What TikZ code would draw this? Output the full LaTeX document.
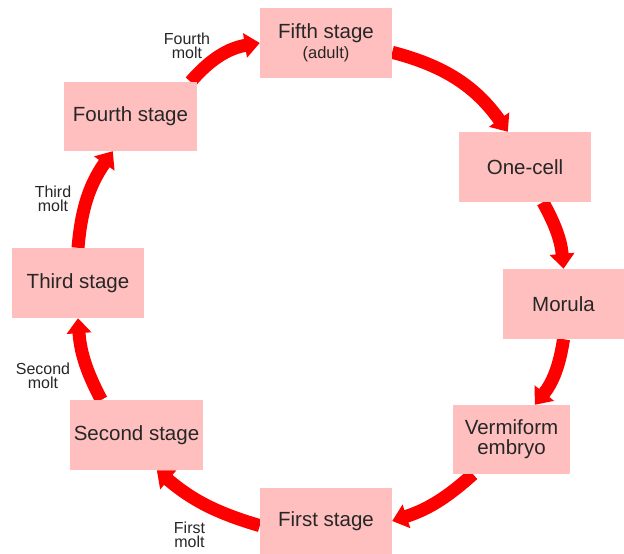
\documentclass[tikz,border=0pt]{standalone}
\usepackage{fontspec}
\setmainfont{Liberation Sans}
\usetikzlibrary{arrows.meta,backgrounds}

\definecolor{stagepink}{HTML}{FFBFBF}
\definecolor{moltred}{HTML}{FF0000}
\definecolor{inkgray}{HTML}{262626}

\begin{document}
\begin{tikzpicture}[x=1pt,y=1pt,
    stage/.style={fill=stagepink, text=inkgray, align=center, inner sep=0pt,
      minimum width=132pt, minimum height=70pt,
      font=\fontsize{20.5}{20}\selectfont},
    molt/.style={text=inkgray, align=center, font=\fontsize{16}{14.5}\selectfont},
    arr/.style={moltred, line width=13pt, -{Triangle[length=15pt,width=24pt]}}]
  \useasboundingbox (0,0) rectangle (624,554);

  % the stages, clockwise from the adult
  \node[stage] (fifth) at (326,511) {Fifth stage\\{\fontsize{16.5}{16}\selectfont(adult)}};
  \node[stage] (onecell) at (525,387) {One-cell};
  \node[stage, minimum width=121pt] (morula) at (563.5,250) {Morula};
  \node[stage, minimum width=117pt, minimum height=69pt] (vermiform) at (511.5,114.5) {Vermiform\\embryo};
  \node[stage, minimum height=66pt] (first) at (326,33) {First stage};
  \node[stage, minimum width=133pt] (second) at (136.5,119) {Second stage};
  \node[stage] (third) at (78,271) {Third stage};
  \node[stage, minimum width=133pt, minimum height=69pt] (fourth) at (130.5,437.5) {Fourth stage};

  % molt labels
  \node[molt] (firstmolt) at (189.5,19) {First\\molt};
  \node[molt] (secondmolt) at (43,178) {Second\\molt};
  \node[molt] (thirdmolt) at (53,355) {Third\\molt};
  \node[molt] (fourthmolt) at (187,508) {Fourth\\molt};

  % the cycle, kept behind the boxes
  \begin{pgfonlayer}{background}
    \draw[arr] (fourth.30) to[bend left=20] (fifth.west);
    \draw[arr] (fifth.-8) to[bend left=20] (onecell.116);
    \draw[arr] (onecell.-63) to[bend left=12] (morula.north);
    \draw[arr] (morula.south) to[bend left=15] (vermiform.56);
    \draw[arr] (vermiform.-138) to[bend left=12] (first.east);
    \draw[arr] (first.184) to[bend left=12] (second.-60);
    \draw[arr] (second.135) to[bend left=12] (third.south);
    \draw[arr] (third.north) to[bend left=15] (fourth.-117);
  \end{pgfonlayer}
\end{tikzpicture}
\end{document}
